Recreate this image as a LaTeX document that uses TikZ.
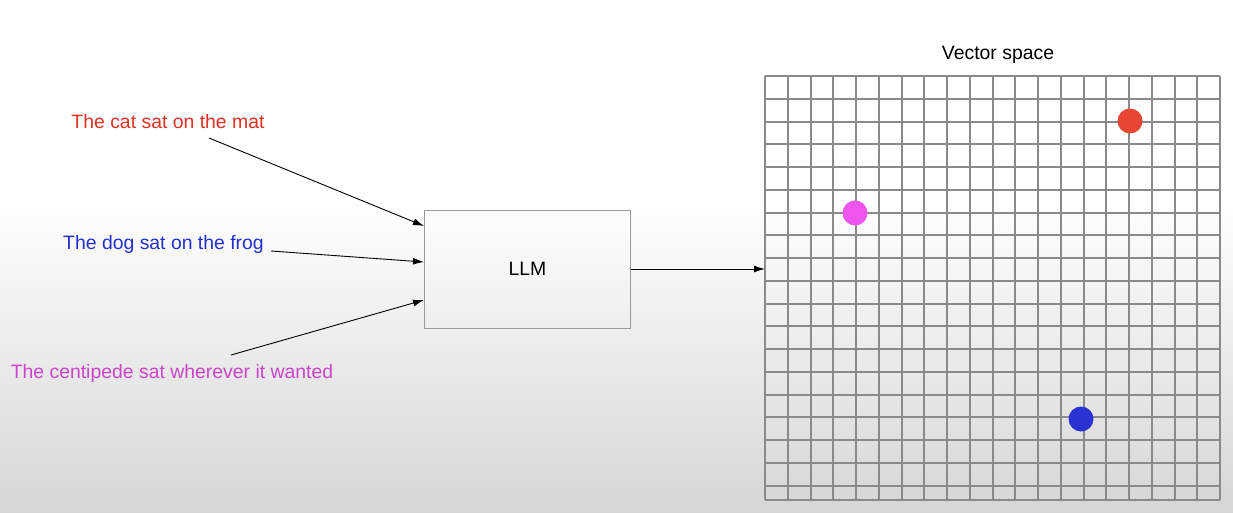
\documentclass[tikz,border=0pt]{standalone}
\usepackage{fontspec}
\setmainfont{Liberation Sans}
\usetikzlibrary{arrows.meta}
\definecolor{catred}{HTML}{DD3322}
\definecolor{dogblue}{HTML}{2430CC}
\definecolor{centmag}{HTML}{CC44CC}
\definecolor{dotred}{HTML}{E84535}
\definecolor{dotblue}{HTML}{2A33D2}
\definecolor{dotmag}{HTML}{EE55EE}
\definecolor{gridgray}{HTML}{8A8A8A}
\definecolor{boxgray}{HTML}{999999}
\definecolor{bggray}{HTML}{D6D6D6}
\tikzset{
  lbl/.style={font=\fontsize{19.4}{22}\selectfont, inner sep=0pt, anchor=center},
  conn/.style={draw=black, line width=0.9pt, -{Latex[length=11pt,width=7pt]}},
  gridline/.style={draw=gridgray, line width=1.3pt},
  llmbox/.style={draw=boxgray, line width=1pt, minimum width=206pt, minimum height=118pt, inner sep=0pt},
  dot/.style={circle, inner sep=0pt, minimum size=25pt}
}
\begin{document}
\begin{tikzpicture}[x=1pt,y=-1pt]
\useasboundingbox (0,0) rectangle (1233,513);
\fill[white] (0,0) rectangle (1233,200);
\shade[top color=white, bottom color=bggray] (0,199) rectangle (1233,513);
% grid
\foreach \i in {0,...,20} \draw[gridline] ({round(765+22.75*\i)},76) -- ({round(765+22.75*\i)},500);
\foreach \j in {0,...,18} \draw[gridline] (765,{round(76+22.75*\j)}) -- (1220,{round(76+22.75*\j)});
\draw[gridline] (765,500) -- (1220,500);
\node[lbl, text=black] (vs) at (998,55) {Vector space};
% dots
\node[dot, fill=dotred] (pr) at (1130,121) {};
\node[dot, fill=dotmag] (pm) at (855,213) {};
\node[dot, fill=dotblue] (pb) at (1081,419) {};
% LLM
\node[llmbox] (llm) at (527.5,269) {};
\node[lbl, text=black] (llmt) at (527.5,269) {LLM};
% sentences
\node[lbl, text=catred] (cat) at (168,122) {The cat sat on the mat};
\node[lbl, text=dogblue] (dog) at (163.5,244) {The dog sat on the frog};
\node[lbl, text=centmag] (cent) at (172,373) {The centipede sat wherever it wanted};
% connector anchors
\coordinate (catS) at (209,138);
\coordinate (dogS) at (271,251);
\coordinate (centS) at (231,355);
\coordinate (catE) at (424,226);
\coordinate (dogE) at (424,262);
\coordinate (centE) at (424,300);
\coordinate (outS) at (631,269);
\coordinate (gridW) at (765,269);
\draw[conn] (catS) -- (catE);
\draw[conn] (dogS) -- (dogE);
\draw[conn] (centS) -- (centE);
\draw[conn] (outS) -- (gridW);
\end{tikzpicture}
\end{document}
